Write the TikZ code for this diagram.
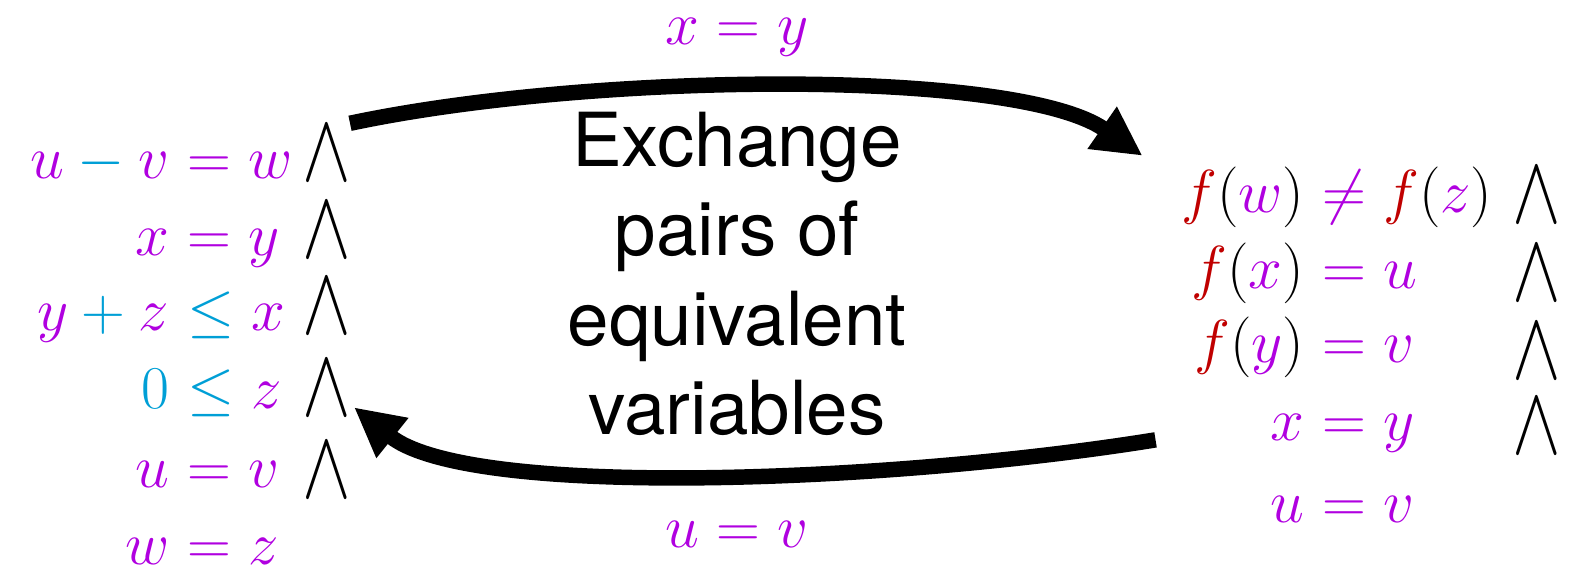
\documentclass[tikz,border=0pt]{standalone}
\usepackage{fontspec}
\newfontfamily\heros{TeX Gyre Heros}
\usetikzlibrary{arrows.meta,calc}
\definecolor{var}{HTML}{B000E0}
\definecolor{op}{HTML}{009FD6}
\definecolor{fun}{HTML}{C00000}
\newcommand{\pv}[1]{{\color{var}#1}}
\newcommand{\fn}{{\color{fun}f}}
\newcommand{\peq}{\mathrel{\color{var}=}}
\newcommand{\pne}{\mathrel{\color{var}\ne}}
\newcommand{\ole}{\mathrel{\color{op}\le}}
\newcommand{\tand}{\scalebox{1.2}[1.6]{$\wedge$}}

\begin{document}
\begin{tikzpicture}[x=0.01cm,y=-0.01cm,
    eq/.style={inner sep=0pt,font=\fontsize{18.5}{22}\selectfont},
    flow/.style={line width=4.4pt,-{Triangle[length=14pt,width=13.6pt]}}]
    \useasboundingbox (0,0) rectangle (1578,569);
    % left conjunction
    \foreach \lhs/\rhs/\y [count=\i] in {
      {\pv{u}\mathbin{\color{op}-}\pv{v}}/{\peq\pv{w}}/178,
      {\pv{x}}/{\peq\pv{y}}/255,
      {\pv{y}\mathbin{\color{op}+}\pv{z}}/{\ole\pv{x}}/330,
      {\color{op}0}/{\ole\pv{z}}/408,
      {\pv{u}}/{\peq\pv{v}}/487,
      {\pv{w}}/{\peq\pv{z}}/564}{
      \node[eq,anchor=base east] (l\i) at (170,\y) {$\lhs$};
      \node[eq,anchor=base west] (lr\i) at (170,\y) {${}\rhs$};}
    \foreach \y [count=\i] in {180,257,333,415,497}
      \node[eq,anchor=base west] (la\i) at (302,\y) {\tand};
    % right conjunction
    \foreach \lhs/\rhs/\y [count=\i] in {
      {\fn(\pv{w})}/{\pne\fn(\pv{z})}/212,
      {\fn(\pv{x})}/{\peq\pv{u}}/288,
      {\fn(\pv{y})}/{\peq\pv{v}}/362,
      {\pv{x}}/{\peq\pv{y}}/440,
      {\pv{u}}/{\peq\pv{v}}/522}{
      \node[eq,anchor=base east] (r\i) at (1305,\y) {$\lhs$};
      \node[eq,anchor=base west] (rr\i) at (1305,\y) {${}\rhs$};}
    \foreach \y [count=\i] in {222,300,378,453}
      \node[eq,anchor=base west] (ra\i) at (1512,\y) {\tand};
    % middle
    \node[inner sep=0pt,align=center,font=\fontsize{21.2}{25.4}\selectfont\heros] (swap) at (737,274)
      {Exchange\\pairs of\\equivalent\\variables};
    \node[eq,anchor=base] (xy) at (737,44) {$\pv{x}\peq\pv{y}$};
    \node[eq,anchor=base] (uv) at (737,547) {$\pv{u}\peq\pv{v}$};
    \draw[flow] ($(la1.north east)+(-2,-2)$) .. controls (592,72) and (1016,68) .. ($(r1.north west)+(-38,-10)$);
    \draw[flow] ($(r3.south west)+(-38,62)$) .. controls (895,482) and (470,500) .. ($(la4.north east)+(2,47)$);
  \end{tikzpicture}
\end{document}
